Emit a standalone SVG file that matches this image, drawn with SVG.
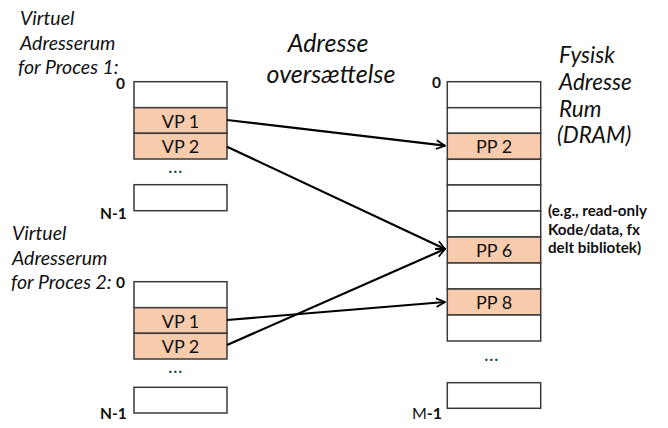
<svg xmlns="http://www.w3.org/2000/svg" width="668" height="428" viewBox="0 0 668 428">
<style>
.cell{fill:#fff;stroke:#3a3a3a;stroke-width:1.5}
.hi{fill:#F8CBAD;stroke:#3a3a3a;stroke-width:1.5}
.lbl{font-family:Lato,"Open Sans",sans-serif;font-size:18px;fill:#111;text-anchor:middle}
.it{font-family:Lato,"Open Sans",sans-serif;font-style:italic;fill:#111}
.b{font-family:Lato,"Open Sans",sans-serif;font-weight:bold;fill:#111}
.dots{font-family:Lato,sans-serif;font-weight:900;font-size:15px;letter-spacing:1.5px;fill:#1d4a3c;text-anchor:middle}
.conn{stroke:#000;stroke-width:2.2;fill:none;marker-end:url(#ah)}
</style>
<defs>
<marker id="ah" viewBox="0 0 10 10" refX="9" refY="5" markerWidth="5" markerHeight="5" orient="auto" markerUnits="strokeWidth">
<path d="M1,1 L9,5 L1,9" fill="none" stroke="#000" stroke-width="1.6"/>
</marker>
</defs>
<rect width="668" height="428" fill="#fff"/>

<g id="title">
<text class="it" font-size="25" x="328" y="52" text-anchor="middle">Adresse</text>
<text class="it" font-size="25" x="331" y="83" text-anchor="middle">oversættelse</text>
</g>

<g id="proc1-label">
<text class="it" font-size="19.5" x="20" y="25">Virtuel</text>
<text class="it" font-size="19.5" x="20" y="50">Adresserum</text>
<text class="it" font-size="19.5" x="18" y="74">for Proces 1:</text>
</g>

<g id="proc1">
<text class="b" font-size="15.5" x="116" y="89">0</text>
<rect class="cell" x="134" y="81.7" width="93" height="26"/>
<rect class="hi" x="134" y="107.7" width="93" height="25.6"/>
<rect class="hi" x="134" y="133.3" width="93" height="25.7"/>
<text class="lbl" x="180.5" y="127.5">VP 1</text>
<text class="lbl" x="180.5" y="152.5">VP 2</text>
<text class="dots" x="176" y="173">...</text>
<rect class="cell" x="134" y="184.7" width="93" height="26"/>
<text class="b" font-size="15.5" x="100" y="219">N-1</text>
</g>

<g id="proc2-label">
<text class="it" font-size="19.5" x="12" y="240">Virtuel</text>
<text class="it" font-size="19.5" x="12" y="265">Adresserum</text>
<text class="it" font-size="19.5" x="11" y="289">for Proces 2:</text>
</g>

<g id="proc2">
<text class="b" font-size="15.5" x="116" y="288">0</text>
<rect class="cell" x="134" y="281.7" width="93" height="26"/>
<rect class="hi" x="134" y="307.7" width="93" height="25.6"/>
<rect class="hi" x="134" y="333.3" width="93" height="25.7"/>
<text class="lbl" x="180.5" y="327.5">VP 1</text>
<text class="lbl" x="180.5" y="352.5">VP 2</text>
<text class="dots" x="176" y="373">...</text>
<rect class="cell" x="134" y="387.3" width="93" height="25.7"/>
<text class="b" font-size="15.5" x="100" y="419">N-1</text>
</g>

<g id="physical">
<text class="b" font-size="15.5" x="432" y="88">0</text>
<rect class="cell" x="447.3" y="81.7" width="93.4" height="26"/>
<rect class="cell" x="447.3" y="107.7" width="93.4" height="25.6"/>
<rect class="hi" x="447.3" y="133.3" width="93.4" height="26"/>
<rect class="cell" x="447.3" y="159.3" width="93.4" height="25.7"/>
<rect class="cell" x="447.3" y="185" width="93.4" height="26"/>
<rect class="cell" x="447.3" y="211" width="93.4" height="26"/>
<rect class="hi" x="447.3" y="237" width="93.4" height="26"/>
<rect class="cell" x="447.3" y="263" width="93.4" height="26"/>
<rect class="hi" x="447.3" y="289" width="93.4" height="26"/>
<rect class="cell" x="447.3" y="315" width="93.4" height="26"/>
<text class="lbl" x="494" y="153">PP 2</text>
<text class="lbl" x="494" y="256.5">PP 6</text>
<text class="lbl" x="494" y="308.5">PP 8</text>
<text class="dots" x="492" y="361">...</text>
<rect class="cell" x="447.3" y="382.7" width="93.4" height="25.6"/>
<text font-family="Lato,sans-serif" font-size="16" fill="#111" x="412" y="419">M<tspan font-weight="bold">-1</tspan></text>
</g>

<g id="physical-label">
<text class="it" font-size="22.5" x="559" y="63">Fysisk</text>
<text class="it" font-size="22.5" x="559" y="90">Adresse</text>
<text class="it" font-size="22.5" x="559" y="117">Rum</text>
<text class="it" font-size="22.5" x="557" y="143">(DRAM)</text>
</g>

<g id="note">
<text class="b" font-size="15.2" x="548" y="216">(e.g., read-only</text>
<text class="b" font-size="15.2" x="548" y="234.5">Kode/data, fx</text>
<text class="b" font-size="15.2" x="548" y="253">delt bibliotek)</text>
</g>

<g id="connectors">
<line class="conn" x1="227" y1="120" x2="445" y2="145.7"/>
<line class="conn" x1="227" y1="146.7" x2="445" y2="249"/>
<line class="conn" x1="227" y1="320" x2="445" y2="302"/>
<line class="conn" x1="227" y1="345" x2="445" y2="249"/>
</g>
</svg>
